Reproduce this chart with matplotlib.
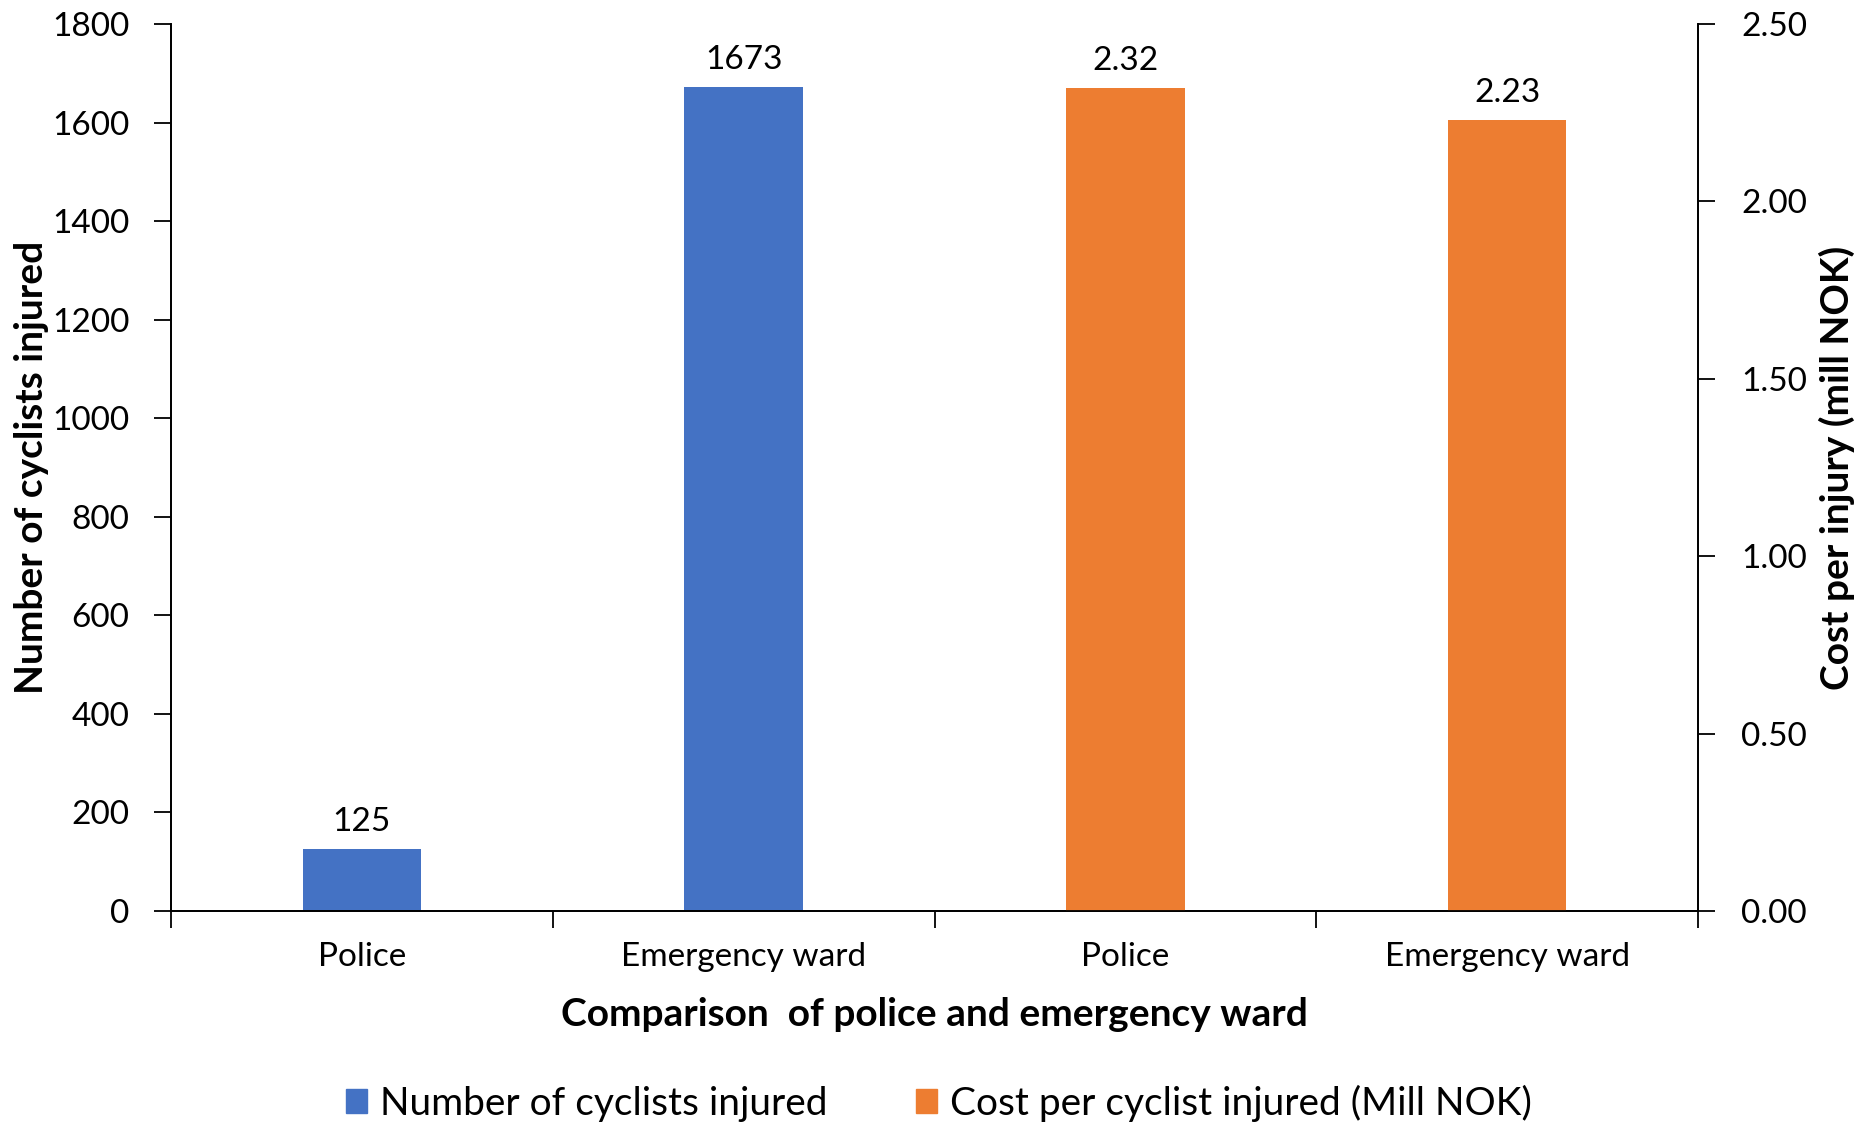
import matplotlib
matplotlib.use("Agg")
import matplotlib.pyplot as plt
from matplotlib.patches import Patch
import numpy as np

plt.rcParams['font.family'] = ['Lato', 'DejaVu Sans']

categories = ["Police", "Emergency ward", "Police", "Emergency ward"]
injured_counts = [125, 1673]          # Number of cyclists injured (left axis)
cost_per_injury = [2.32, 2.23]        # Cost per cyclist injured, mill NOK (right axis)
count_ticks = list(range(0, 1801, 200))
cost_ticks = [0.0, 0.5, 1.0, 1.5, 2.0, 2.5]

blue = "#4472C4"
orange = "#ED7D31"
fs = 24
fs_title = 28

fig = plt.figure(figsize=(18.64, 11.24), dpi=100)
ax = fig.add_axes([171/1864, 1-911/1124, (1698-171)/1864, (911-24)/1124])
ax2 = ax.twinx()

pos = np.arange(len(categories))
width = 0.31
b1 = ax.bar(pos[:2], injured_counts, width=width, color=blue)
b2 = ax2.bar(pos[2:], cost_per_injury, width=width, color=orange)

ax.set_xlim(-0.5, len(categories) - 0.5)
ax.set_ylim(0, 1800)
ax2.set_ylim(0, 2.5)
ax.set_yticks(count_ticks)
ax.set_yticklabels([str(v) for v in count_ticks])
ax2.set_yticks(cost_ticks)
ax2.set_yticklabels([f"{v:.2f}" for v in cost_ticks])

# category boundaries carry the tick marks, labels sit at bar centres
ax.set_xticks(np.arange(-0.5, len(categories), 1.0))
ax.set_xticklabels([])
ax.set_xticks(pos, minor=True)
ax.set_xticklabels(categories, minor=True)
ax.tick_params(axis='x', which='major', length=12, width=1.3, direction='out')
ax.tick_params(axis='x', which='minor', length=0, pad=22, labelsize=fs)
ax.tick_params(axis='y', length=12, width=1.3, pad=18, labelsize=fs)
ax2.tick_params(axis='y', length=12, width=1.3, pad=19, labelsize=fs)

for a in (ax, ax2):
    a.spines['top'].set_visible(False)
    for s in ('left', 'right', 'bottom'):
        a.spines[s].set_linewidth(1.3)
        a.spines[s].set_color('black')

for rect, v in zip(b1, injured_counts):
    ax.annotate(f"{v}", (rect.get_x() + rect.get_width()/2, v),
                xytext=(0, 13), textcoords='offset points',
                ha='center', va='baseline', fontsize=fs)
for rect, v in zip(b2, cost_per_injury):
    ax2.annotate(f"{v:.2f}", (rect.get_x() + rect.get_width()/2, v),
                 xytext=(0, 13), textcoords='offset points',
                 ha='center', va='baseline', fontsize=fs)

ax.set_ylabel("Number of cyclists injured", fontsize=fs_title, fontweight='bold')
ax.yaxis.set_label_coords(-(171-32)/(1698-171), 0.5)
ax2.set_ylabel("Cost per injury (mill NOK)", fontsize=fs_title, fontweight='bold')
ax2.yaxis.set_label_coords(1 + (1837-1698)/(1698-171), 0.5)
ax.set_xlabel("Comparison  of police and emergency ward", fontsize=fs_title, fontweight='bold')
ax.xaxis.set_label_coords(0.5, -(1014-911)/(911-24))
ax.xaxis.label.set_va('center')
ax.yaxis.label.set_va('center')
ax2.yaxis.label.set_va('center')

handles = [Patch(color=blue, label="Number of cyclists injured"),
           Patch(color=orange, label="Cost per cyclist injured (Mill NOK)")]
fig.legend(handles=handles, loc='center', bbox_to_anchor=(939/1864, 1-1103/1124),
           ncol=2, frameon=False, fontsize=fs_title, handlelength=0.55,
           handleheight=0.6, handletextpad=0.34, columnspacing=2.26)

fig.savefig("out.png", dpi=100)
